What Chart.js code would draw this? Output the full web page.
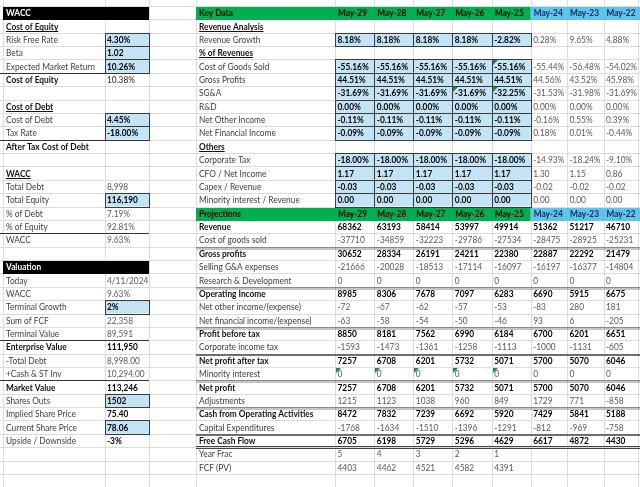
<!DOCTYPE html>
<html><head><meta charset="utf-8">
<script src="https://cdn.jsdelivr.net/npm/chart.js@4.4.0/dist/chart.umd.min.js"></script>
<style>html,body{margin:0;padding:0;background:#fff;overflow:hidden}</style>
</head><body><canvas id="c" width="640" height="487"></canvas>
<script>
// ---------- DATA ----------
const periods = ['May-29','May-28','May-27','May-26','May-25','May-24','May-23','May-22'];
// Key data ratios
const revenueGrowth = [8.18, 8.18, 8.18, 8.18, -2.82, 0.28, 9.65, 4.88];
const cogsPct      = [-55.16,-55.16,-55.16,-55.16,-55.16,-55.44,-56.48,-54.02];
const grossPct     = [44.51,44.51,44.51,44.51,44.51,44.56,43.52,45.98];
const sgaPct       = [-31.69,-31.69,-31.69,-31.69,-32.25,-31.53,-31.98,-31.69];
const rdPct        = [0,0,0,0,0,0,0,0];
const otherIncPct  = [-0.11,-0.11,-0.11,-0.11,-0.11,-0.16,0.55,0.39];
const finIncPct    = [-0.09,-0.09,-0.09,-0.09,-0.09,0.18,0.01,-0.44];
const corpTaxPct   = [-18,-18,-18,-18,-18,-14.93,-18.24,-9.10];
const cfoToNi      = [1.17,1.17,1.17,1.17,1.17,1.30,1.15,0.86];
const capexToRev   = [-0.03,-0.03,-0.03,-0.03,-0.03,-0.02,-0.02,-0.02];
const minorityToRev= [0,0,0,0,0,0,0,0];
// Projections
const revenue     = [68362,63193,58414,53997,49914,51362,51217,46710];
const cogs        = [-37710,-34859,-32223,-29786,-27534,-28475,-28925,-25231];
const grossProfit = [30652,28334,26191,24211,22380,22887,22292,21479];
const sga         = [-21666,-20028,-18513,-17114,-16097,-16197,-16377,-14804];
const rnd         = [0,0,0,0,0,0,0,0];
const opIncome    = [8985,8306,7678,7097,6283,6690,5915,6675];
const otherInc    = [-72,-67,-62,-57,-53,-83,280,181];
const finInc      = [-63,-58,-54,-50,-46,93,6,-205];
const pbt         = [8850,8181,7562,6990,6184,6700,6201,6651];
const incomeTax   = [-1593,-1473,-1361,-1258,-1113,-1000,-1131,-605];
const npat        = [7257,6708,6201,5732,5071,5700,5070,6046];
const minority    = [0,0,0,0,0,0,0,0];
const netProfit   = [7257,6708,6201,5732,5071,5700,5070,6046];
const adjustments = [1215,1123,1038,960,849,1729,771,-858];
const cfo         = [8472,7832,7239,6692,5920,7429,5841,5188];
const capex       = [-1768,-1634,-1510,-1396,-1291,-812,-969,-758];
const fcf         = [6705,6198,5729,5296,4629,6617,4872,4430];
const yearFrac    = [5,4,3,2,1];
const fcfPV       = [4403,4462,4521,4582,4391];
// Left panel
const costOfEquityLabels = ['Risk Free Rate','Beta','Expected Market Return','Cost of Equity'];
const costOfEquityValues = ['4.30%','1.02','10.26%','10.38%'];
const costOfDebtLabels = ['Cost of Debt','Tax Rate','After Tax Cost of Debt'];
const costOfDebtValues = ['4.45%','-18.00%',''];
const waccLabels = ['Total Debt','Total Equity','% of Debt','% of Equity','WACC'];
const waccValues = ['8,998','116,190','7.19%','92.81%','9.63%'];
const valuationLabels = ['Today','WACC','Terminal Growth','Sum of FCF','Terminal Value','Enterprise Value','-Total Debt','+Cash & ST Inv','Market Value','Shares Outs','Implied Share Price','Current Share Price','Upside / Downside'];
const valuationValues = ['4/11/2024','9.63%','2%','22,358','89,591','111,950','8,998.00','10,294.00','113,246','1502','75.40','78.06','-3%'];

// ---------- TABLE STRUCTURE (rows / styles) ----------
const pct = v => v.toFixed(2) + '%';
const dec = v => v.toFixed(2);
const int = v => String(v);

const leftRows = [
  {t:'header', label:'WACC'},
  {t:'section', label:'Cost of Equity'},
  {label:costOfEquityLabels[0], value:costOfEquityValues[0], input:true},
  {label:costOfEquityLabels[1], value:costOfEquityValues[1], input:true},
  {label:costOfEquityLabels[2], value:costOfEquityValues[2], input:true, bottom:true},
  {label:costOfEquityLabels[3], value:costOfEquityValues[3], boldLabel:true},
  {t:'blank'},
  {t:'section', label:'Cost of Debt'},
  {label:costOfDebtLabels[0], value:costOfDebtValues[0], input:true},
  {label:costOfDebtLabels[1], value:costOfDebtValues[1], input:true, bottom:true},
  {label:costOfDebtLabels[2], value:costOfDebtValues[2], boldLabel:true},
  {t:'blank'},
  {t:'section', label:'WACC'},
  {label:waccLabels[0], value:waccValues[0]},
  {label:waccLabels[1], value:waccValues[1], input:true},
  {label:waccLabels[2], value:waccValues[2]},
  {label:waccLabels[3], value:waccValues[3], bottom:true},
  {label:waccLabels[4], value:waccValues[4]},
  {t:'blank'},
  {t:'header', label:'Valuation'},
  {label:valuationLabels[0], value:valuationValues[0]},
  {label:valuationLabels[1], value:valuationValues[1]},
  {label:valuationLabels[2], value:valuationValues[2], input:true},
  {label:valuationLabels[3], value:valuationValues[3]},
  {label:valuationLabels[4], value:valuationValues[4], bottom:true},
  {label:valuationLabels[5], value:valuationValues[5], boldLabel:true, boldValue:true},
  {label:valuationLabels[6], value:valuationValues[6]},
  {label:valuationLabels[7], value:valuationValues[7], bottom:true},
  {label:valuationLabels[8], value:valuationValues[8], boldLabel:true, boldValue:true},
  {label:valuationLabels[9], value:valuationValues[9], input:true},
  {label:valuationLabels[10], value:valuationValues[10], boldValue:true},
  {label:valuationLabels[11], value:valuationValues[11], input:true},
  {label:valuationLabels[12], value:valuationValues[12], boldValue:true}
];

const rightRows = [
  {t:'header', label:'Key Data'},
  {t:'section', label:'Revenue Analysis'},
  {label:'Revenue Growth', vals:revenueGrowth, f:pct, input:true},
  {t:'section', label:'% of Revenues'},
  {label:'Cost of Goods Sold', vals:cogsPct, f:pct, input:true, tri:[4]},
  {label:'Gross Profits', vals:grossPct, f:pct, input:true},
  {label:'SG&A', vals:sgaPct, f:pct, input:true, tri:[3,4]},
  {label:'R&D', vals:rdPct, f:pct, input:true},
  {label:'Net Other Income', vals:otherIncPct, f:pct, input:true},
  {label:'Net Financial Income', vals:finIncPct, f:pct, input:true},
  {t:'section', label:'Others'},
  {label:'Corporate Tax', vals:corpTaxPct, f:pct, input:true},
  {label:'CFO / Net Income', vals:cfoToNi, f:dec, input:true},
  {label:'Capex / Revenue', vals:capexToRev, f:dec, input:true},
  {label:'Minority interest / Revenue', vals:minorityToRev, f:dec, input:true},
  {t:'header', label:'Projections'},
  {label:'Revenue', vals:revenue, f:int, bold:true},
  {label:'Cost of goods sold', vals:cogs, f:int},
  {label:'Gross profits', vals:grossProfit, f:int, bold:true, top:'double'},
  {label:'Selling G&A expenses', vals:sga, f:int},
  {label:'Research & Development', vals:rnd, f:int},
  {label:'Operating Income', vals:opIncome, f:int, bold:true, top:'double'},
  {label:'Net other income/(expense)', vals:otherInc, f:int},
  {label:'Net financial income/(expense)', vals:finInc, f:int},
  {label:'Profit before tax', vals:pbt, f:int, bold:true, top:'double'},
  {label:'Corporate income tax', vals:incomeTax, f:int},
  {label:'Net profit after tax', vals:npat, f:int, bold:true, top:'dark'},
  {label:'Minority interest', vals:minority, f:int, tri:[0,1,2,3,4]},
  {label:'Net profit', vals:netProfit, f:int, bold:true, top:'double'},
  {label:'Adjustments', vals:adjustments, f:int},
  {label:'Cash from Operating Activities', vals:cfo, f:int, bold:true, top:'double'},
  {label:'Capital Expenditures', vals:capex, f:int},
  {label:'Free Cash Flow', vals:fcf, f:int, bold:true, top:'dark', bottom:'thick'},
  {label:'Year Frac', vals:yearFrac, f:int},
  {label:'FCF (PV)', vals:fcfPV, f:int}
];

// ---------- LAYOUT ----------
const L_EDGES = [3, 105, 149, 196];
const R_EDGES = [196, 335, 374.3, 413.3, 452.3, 491.7, 530.7, 567, 603.5, 638];
const ROW0 = 6, RH = 13.37, NROWS = 36;
const FONT = 'Lato, "Open Sans", sans-serif';
const FS = 9.2;
const C = {grid:'#dcdcdc', green:'#00b050', blue:'#5cc4ef', input:'#c4e4f5', border:'#3a3a3a',
  lab:'#404040', labB:'#111111', val:'#595959', valB:'#000000', navy:'#1b2a4e'};

const tablePlugin = {
  id:'sheet',
  afterDraw(chart){
    const ctx = chart.ctx, sx = chart.scales.x, sy = chart.scales.y;
    const X = v => sx.getPixelForValue(v);
    const Y = v => sy.getPixelForValue(v);
    const rowTop = r => Y(ROW0 + (r-1)*RH);     // r: 1-based
    const rowBot = r => Y(ROW0 + r*RH);
    const rowMid = r => (rowTop(r)+rowBot(r))/2 + 0.5;
    ctx.save();
    // measure compression
    ctx.font = `${FS}px ${FONT}`;
    const K = 89 / ctx.measureText('Expected Market Return').width;
    function txt(s, x, y, bold, color){
      if(s==='' || s==null) return 0;
      ctx.font = `${bold?'bold ':''}${FS}px ${FONT}`;
      ctx.fillStyle = color; ctx.textBaseline = 'middle'; ctx.textAlign = 'left';
      const w = ctx.measureText(s).width*K;
      ctx.fillText(s, x, y, w);
      return w;
    }
    function hline(x1,x2,y,color,w){ctx.strokeStyle=color;ctx.lineWidth=w;ctx.beginPath();ctx.moveTo(x1,y);ctx.lineTo(x2,y);ctx.stroke();}
    function vline(x,y1,y2,color,w){ctx.strokeStyle=color;ctx.lineWidth=w;ctx.beginPath();ctx.moveTo(x,y1);ctx.lineTo(x,y2);ctx.stroke();}
    const snap = v => Math.round(v)+0.5;

    // gridlines
    for(let r=0;r<=NROWS;r++){ hline(X(0),X(640),snap(Y(ROW0+r*RH)),C.grid,1); }
    [...L_EDGES, ...R_EDGES.slice(1)].forEach(e=>vline(snap(X(e)),Y(0),Y(487),C.grid,1));

    // ---- LEFT PANEL ----
    const lx0 = X(L_EDGES[0]), lx1 = X(L_EDGES[1]), lx2 = X(L_EDGES[2]);
    leftRows.forEach((row,i)=>{
      const r=i+1, t=rowTop(r), b=rowBot(r), m=rowMid(r);
      if(row.t==='header'){
        ctx.fillStyle='#000'; ctx.fillRect(lx0, Math.round(t)+1, lx2-lx0, Math.round(b)-Math.round(t));
        txt(row.label, lx0+3, m, true, '#fff');
        return;
      }
      if(row.t==='section'){
        const w = txt(row.label, lx0+3, m, true, C.labB);
        hline(lx0+3, lx0+3+w, Math.round(m)+4.5, C.labB, 1);
        return;
      }
      if(row.t==='blank') return;
      if(row.input){
        ctx.fillStyle=C.input; ctx.fillRect(lx1, t, lx2-lx1, b-t);
        ctx.strokeStyle=C.border; ctx.lineWidth=1;
        ctx.strokeRect(snap(lx1), snap(t), Math.round(lx2-lx1), Math.round(b)-Math.round(t));
      }
      txt(row.label, lx0+3, m, !!row.boldLabel, row.boldLabel?C.labB:C.lab);
      const vb = row.input || row.boldValue;
      txt(row.value, lx1+2, m, vb, vb?C.valB:(row.boldLabel?'#262626':C.val));
      if(row.bottom) hline(X(0), lx2, snap(b), '#333', 1);
    });

    // ---- RIGHT PANEL ----
    const rx = R_EDGES.map(X);
    rightRows.forEach((row,i)=>{
      const r=i+1, t=rowTop(r), b=rowBot(r), m=rowMid(r);
      if(row.t==='header'){
        ctx.fillStyle=C.green; ctx.fillRect(rx[0], Math.round(t)+1, rx[6]-rx[0], Math.round(b)-Math.round(t));
        ctx.fillStyle=C.blue; ctx.fillRect(rx[6], Math.round(t)+1, X(640)-rx[6], Math.round(b)-Math.round(t));
        txt(row.label, rx[0]+3, m, true, '#000');
        periods.forEach((p,j)=>txt(p, rx[j+1]+3, m, true, j<5?'#000':C.navy));
        return;
      }
      if(row.t==='section'){
        const w = txt(row.label, rx[0]+3, m, true, C.labB);
        hline(rx[0]+3, rx[0]+3+w, Math.round(m)+4.5, C.labB, 1);
        return;
      }
      if(row.input){
        ctx.fillStyle=C.input; ctx.fillRect(rx[1], t, rx[6]-rx[1], b-t);
        ctx.strokeStyle=C.border; ctx.lineWidth=1;
        for(let j=1;j<=5;j++) ctx.strokeRect(snap(rx[j]), snap(t), Math.round(rx[j+1])-Math.round(rx[j]), Math.round(b)-Math.round(t));
      }
      if(row.top==='double'){ hline(rx[0], X(640), Math.round(t)+0.5, '#8a8a8a', 1); hline(rx[0], X(640), Math.round(t)+2, '#8a8a8a', 1); }
      if(row.top==='dark'){ hline(rx[0], X(640), Math.round(t)+1, '#444', 1.6); }
      if(row.bottom==='thick'){ hline(rx[0], X(640), Math.round(b)-0.5, '#444', 1.2); hline(rx[0], X(640), Math.round(b)+1.5, '#444', 1.2); }
      txt(row.label, rx[0]+3, m, !!row.bold, row.bold?C.labB:C.lab);
      row.vals.forEach((v,j)=>{
        const proj = j<5;
        const bold = row.bold || (row.input && proj);
        txt(row.f(v), rx[j+1]+2.5, m, bold, bold?C.valB:C.val);
      });
      if(row.tri){
        ctx.fillStyle='#1e8a3c';
        row.tri.forEach(j=>{
          const x0=Math.round(rx[j+1])+1, y0=Math.round(t)+1;
          ctx.beginPath(); ctx.moveTo(x0,y0); ctx.lineTo(x0+5,y0); ctx.lineTo(x0,y0+5); ctx.closePath(); ctx.fill();
        });
      }
    });
    ctx.restore();
  }
};

new Chart(document.getElementById('c').getContext('2d'), {
  type:'scatter',
  data:{datasets:[]},
  options:{
    responsive:false, animation:false, devicePixelRatio:1,
    layout:{padding:0},
    plugins:{legend:{display:false}, tooltip:{enabled:false}, title:{display:false}},
    scales:{
      x:{type:'linear', min:0, max:640, display:false},
      y:{type:'linear', min:0, max:487, reverse:true, display:false}
    }
  },
  plugins:[tablePlugin]
});
</script>
</body></html>
